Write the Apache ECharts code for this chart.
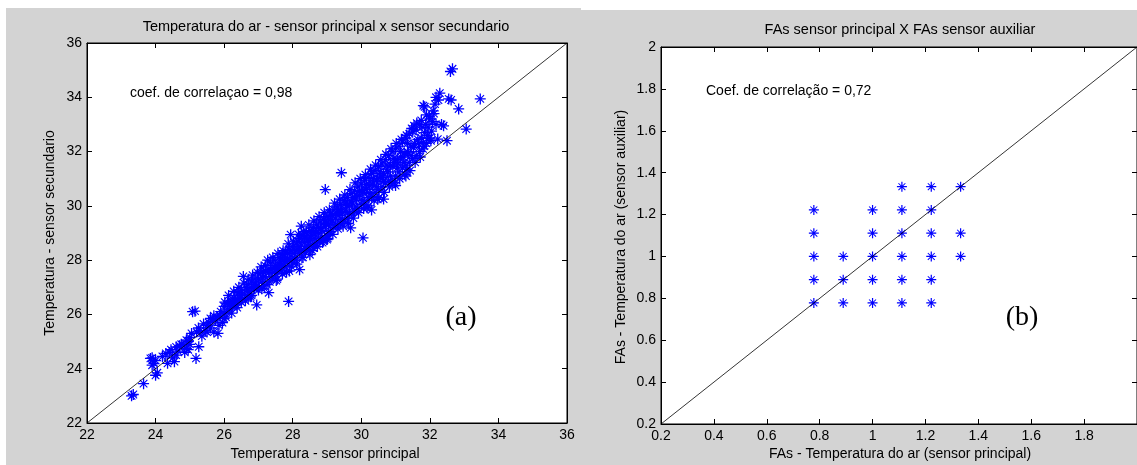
<!DOCTYPE html>
<html>
<head>
<meta charset="utf-8">
<script src="https://cdn.jsdelivr.net/npm/echarts@6/dist/echarts.min.js"></script>
<style>
html,body{margin:0;padding:0;background:#fff;}
#c{width:1137px;height:465px;}
</style>
</head>
<body>
<div id="c"></div>
<script>
// ---------- Panel (a): temperature [principal, secundario] ----------
const tempPoints = [
[23.3,23.0],[23.35,23.05],[23.65,23.45],[23.85,24.38],[23.9,24.4],[23.95,24.2],[24.0,23.76],[24.05,23.85],[23.9,24.13],[24.0,24.3],
[24.3,24.56],[24.35,24.2],[24.4,24.6],[24.5,24.4],[24.55,24.26],[24.6,24.5],[24.7,24.85],[24.75,24.9],[24.8,24.87],[24.85,24.6],
[24.9,24.75],[24.95,25.0],[25.0,24.9],[25.05,25.3],[25.08,26.1],[25.15,26.12],[25.18,24.38],[25.2,25.35],[25.26,24.81],[25.3,25.4],
[25.35,25.2],[25.45,25.4],[25.5,25.6],[25.55,25.7],[25.6,25.5],[25.65,25.75],[25.7,25.35],[25.75,25.8],[25.8,25.9],[25.82,25.3],
[25.87,25.98],[25.9,26.1],[25.95,25.7],
[24.2,24.45],[24.45,24.7],[24.65,24.65],[24.9,25.05],[25.0,25.15],[25.25,25.5],[25.4,25.65],[25.5,25.35],[25.7,25.95],[25.85,25.6],
[26.0,25.85],[25.6,25.85],[24.95,24.7],[24.6,24.8],
[26.0,26.05],[26.0,26.3],[26.05,25.9],[26.1,26.4],[26.15,26.2],[26.2,26.5],[26.24,26.48],[26.25,26.3],[26.3,26.6],[26.35,26.35],
[26.4,26.55],[26.4,26.8],[26.45,26.6],[26.5,26.9],[26.5,26.45],[26.56,27.4],[26.6,26.75],[26.65,27.0],[26.7,26.6],[26.7,27.1],
[26.75,26.85],[26.8,27.2],[26.8,26.7],[26.85,27.0],[26.9,27.3],[26.95,26.35],[26.95,27.05],[27.0,26.9],
[26.02,26.45],[26.08,26.12],[26.13,26.7],[26.18,26.35],[26.22,26.05],[26.28,26.85],[26.33,26.5],[26.38,26.25],[26.43,27.0],[26.47,26.7],
[26.53,26.6],[26.58,27.15],[26.62,26.5],[26.68,26.9],[26.72,27.3],[26.77,26.65],[26.83,27.45],[26.88,26.95],[26.92,27.15],[26.97,27.55],
[27.0,27.3],[27.05,27.5],[27.1,27.2],[27.1,26.95],[27.15,27.6],[27.2,27.4],[27.2,27.8],[27.25,27.1],[27.3,26.8],[27.3,27.55],
[27.35,27.9],[27.4,27.35],[27.4,27.7],[27.45,28.0],[27.5,27.5],[27.5,27.8],[27.55,27.3],[27.6,28.1],[27.6,27.65],[27.65,27.9],
[27.7,28.2],[27.7,27.5],[27.75,28.0],[27.8,27.75],[27.8,28.3],[27.85,28.05],[27.88,26.48],[27.9,27.6],[27.9,28.4],[27.94,28.94],
[27.95,28.15],[28.0,27.9],[28.0,28.5],
[27.03,27.0],[27.08,27.75],[27.12,27.35],[27.17,27.05],[27.22,27.6],[27.27,28.0],[27.33,27.2],[27.37,27.65],[27.42,28.1],[27.47,27.55],
[27.52,27.25],[27.57,28.25],[27.62,27.85],[27.67,27.6],[27.72,28.35],[27.77,27.95],[27.82,27.55],[27.87,28.6],[27.92,28.0],[27.97,27.75],
[27.55,27.75],[27.65,28.05],[27.75,27.8],[27.85,28.25],[27.95,28.35],
[28.05,28.25],[28.1,28.6],[28.1,28.0],[28.15,28.4],[28.2,27.65],[28.2,28.8],[28.2,28.3],[28.25,29.25],[28.25,28.55],[28.3,28.1],
[28.3,28.9],[28.35,28.65],[28.4,28.4],[28.4,29.0],[28.45,28.75],[28.5,28.2],[28.5,29.1],[28.5,28.55],[28.55,28.9],[28.6,28.45],
[28.6,29.2],[28.65,28.8],[28.7,29.3],[28.7,28.6],[28.75,29.0],[28.8,28.75],[28.8,29.4],[28.85,29.1],[28.9,28.7],[28.9,29.5],
[28.95,30.6],[28.95,29.25],[29.0,28.9],[29.0,29.6],[29.05,29.3],[29.0,28.76],
[28.02,28.7],[28.07,28.35],[28.12,27.85],[28.17,28.95],[28.22,28.5],[28.27,28.1],[28.32,29.05],[28.37,28.3],[28.42,28.75],[28.47,29.3],
[28.52,28.85],[28.57,28.35],[28.62,29.45],[28.67,29.0],[28.72,28.5],[28.77,29.6],[28.82,29.15],[28.87,28.65],[28.92,29.75],[28.97,29.35],
[28.05,28.05],[28.15,28.7],[28.25,28.35],[28.35,28.85],[28.45,28.5],[28.55,29.05],[28.65,28.6],[28.75,29.2],[28.85,28.85],[28.95,29.45],
[29.1,29.05],[29.1,29.7],[29.15,29.45],[29.2,29.2],[29.2,29.85],[29.25,29.55],[29.3,29.3],[29.3,29.95],[29.35,29.65],[29.4,29.35],
[29.42,31.22],[29.4,30.05],[29.45,29.75],[29.5,29.45],[29.5,30.2],[29.55,29.85],[29.6,29.55],[29.6,30.3],[29.65,30.0],[29.69,29.19],
[29.7,29.7],[29.7,30.45],[29.75,30.1],[29.8,29.8],[29.8,30.55],[29.85,30.25],[29.9,29.9],[29.9,30.7],[29.95,30.4],[30.0,30.05],[30.0,30.8],
[29.02,28.8],[29.07,29.85],[29.12,29.4],[29.17,28.95],[29.22,30.1],[29.27,29.7],[29.32,29.15],[29.37,30.25],[29.42,29.8],[29.47,29.25],
[29.52,30.4],[29.57,30.0],[29.62,29.35],[29.67,30.6],[29.72,30.15],[29.77,29.55],[29.82,30.85],[29.87,30.35],[29.92,29.75],[29.97,31.0],
[29.05,29.05],[29.15,29.65],[29.25,29.3],[29.35,29.85],[29.45,29.5],[29.55,30.1],[29.65,29.7],[29.75,30.3],[29.85,29.95],[29.95,30.55],
[30.05,28.82],[30.05,30.5],[30.1,30.15],[30.1,30.95],[30.15,30.6],[30.17,29.93],[30.2,30.3],[30.2,31.05],[30.25,30.75],[30.3,30.35],
[30.3,31.2],[30.35,30.85],[30.4,30.5],[30.4,31.3],[30.45,30.95],[30.48,30.24],[30.5,30.6],[30.5,31.45],[30.55,31.1],[30.6,30.7],
[30.6,31.55],[30.65,31.2],[30.7,30.85],[30.7,31.7],[30.75,31.35],[30.8,30.9],[30.8,31.85],[30.85,31.5],[30.9,30.86],[30.9,32.0],
[30.95,31.6],[31.0,31.1],[31.0,32.1],[30.3,29.85],[30.65,30.25],[31.0,30.75],
[30.02,30.55],[30.07,29.9],[30.12,31.15],[30.17,30.65],[30.22,30.0],[30.27,31.35],[30.32,30.8],[30.37,30.2],[30.42,31.5],[30.47,31.0],
[30.52,30.3],[30.57,31.7],[30.62,31.05],[30.67,30.5],[30.72,31.9],[30.77,31.25],[30.82,30.7],[30.87,32.1],[30.92,31.45],[30.97,30.85],
[30.05,30.2],[30.15,30.8],[30.25,30.45],[30.35,31.0],[30.45,30.7],[30.55,31.25],[30.65,30.9],[30.75,31.5],[30.85,31.1],[30.95,31.75],
[31.05,31.7],[31.1,31.25],[31.1,32.2],[31.15,31.8],[31.2,31.4],[31.2,32.35],[31.25,31.95],[31.3,31.5],[31.33,31.35],[31.3,32.5],
[31.35,32.0],[31.4,31.6],[31.4,32.65],[31.45,32.2],[31.5,31.75],[31.5,32.75],[31.54,32.95],[31.55,32.3],[31.6,31.85],[31.6,32.8],
[31.65,32.45],[31.7,32.0],[31.7,33.0],[31.75,33.15],[31.75,32.5],[31.8,32.1],[31.81,32.34],[31.81,33.69],[31.85,33.65],[31.85,32.7],
[31.9,33.35],[31.9,32.3],[31.95,32.9],[32.0,32.5],[31.3,31.1],
[31.02,32.3],[31.07,31.55],[31.12,31.0],[31.17,32.45],[31.22,31.8],[31.27,31.15],[31.32,32.6],[31.37,31.95],[31.42,31.3],[31.47,32.85],
[31.52,32.15],[31.57,31.6],[31.62,33.05],[31.67,32.3],[31.72,31.8],[31.77,32.9],[31.83,32.2],[31.88,33.0],[31.93,32.6],[31.98,33.3],
[32.03,32.4],[32.08,33.1],[32.12,33.4],
[31.05,31.4],[31.15,32.0],[31.25,31.6],[31.35,32.3],[31.45,31.85],
[32.0,33.2],[32.05,32.75],[32.1,33.5],[32.15,33.75],[32.18,33.0],[32.18,34.0],[32.23,32.46],[32.25,33.9],[32.29,34.15],[32.34,33.0],
[32.4,32.95],[32.5,32.4],[32.55,33.94],[32.6,34.95],[32.62,33.9],[32.66,35.05],[32.84,33.57],[33.06,32.83],[33.47,33.94]
];
const refLineA = [22, 36];

// ---------- Panel (b): FAs [principal, auxiliar] ----------
const fasPoints = [
[0.778,0.778],[0.778,0.889],[0.778,1.0],[0.778,1.111],[0.778,1.222],
[0.889,0.778],[0.889,0.889],[0.889,1.0],
[1.0,0.778],[1.0,0.889],[1.0,1.0],[1.0,1.111],[1.0,1.222],
[1.111,0.778],[1.111,0.889],[1.111,1.0],[1.111,1.111],[1.111,1.222],[1.111,1.333],
[1.222,0.778],[1.222,0.889],[1.222,1.0],[1.222,1.111],[1.222,1.222],[1.222,1.333],
[1.333,1.0],[1.333,1.111],[1.333,1.333]
];
const refLineB = [0.2, 2.0];

const titleA = 'Temperatura do ar - sensor principal x sensor secundario';
const titleB = 'FAs sensor principal X FAs sensor auxiliar';
const xNameA = 'Temperatura - sensor principal';
const yNameA = 'Temperatura - sensor secundario';
const xNameB = 'FAs - Temperatura do ar (sensor principal)';
const yNameB = 'FAs - Temperatura do ar (sensor auxiliar)';
const noteA = 'coef. de correlaçao = 0,98';
const noteB = 'Coef. de correlação = 0,72';

const FONT = '"Liberation Sans", Arial, sans-serif';
const STAR = 'path://M44,0 L56,0 L56,100 L44,100 Z M0,44 L100,44 L100,56 L0,56 Z M19.1,11.9 L88.1,80.9 L80.9,88.1 L11.9,19.1 Z M88.1,19.1 L19.1,88.1 L11.9,80.9 L80.9,11.9 Z';

function axisPair(gridIndex, min, max, interval, isX, showMax) {
  const common = {
    gridIndex, type: 'value', min, max, interval,
    splitLine: { show: false },
    axisLine: { show: true, onZero: false, lineStyle: { color: '#000', width: 1 } },
    axisTick: { show: true, inside: true, length: 5, lineStyle: { color: '#000' } }
  };
  const main = Object.assign({}, common, {
    position: isX ? 'bottom' : 'left',
    axisLabel: { color: '#000', fontFamily: FONT, fontSize: 14, margin: 5,
      showMinLabel: true, showMaxLabel: showMax }
  });
  const other = Object.assign({}, common, {
    position: isX ? 'top' : 'right',
    axisLabel: { show: false }
  });
  return [main, other];
}

const xA = axisPair(0, 22, 36, 2, true, true);
const yA = axisPair(0, 22, 36, 2, false, true);
const xB = axisPair(1, 0.2, 2.0, 0.2, true, false);
const yB = axisPair(1, 0.2, 2.0, 0.2, false, true);

function txt(x, y, text, opts, extra) {
  return Object.assign({
    type: 'text', x, y, z: 100,
    style: Object.assign({ text, fill: '#000', font: '14px ' + FONT }, opts || {})
  }, extra || {});
}

const option = {
  animation: false,
  backgroundColor: '#fff',
  graphic: [
    { type: 'rect', shape: { x: 6, y: 8, width: 575, height: 457 }, style: { fill: '#d3d3d3' }, z: -10, silent: true },
    { type: 'rect', shape: { x: 581, y: 10, width: 556, height: 455 }, style: { fill: '#d3d3d3' }, z: -10, silent: true },
    txt(326, 27, titleA, { align: 'center', verticalAlign: 'middle', font: '14.5px ' + FONT }),
    txt(900, 30, titleB, { align: 'center', verticalAlign: 'middle', font: '14.5px ' + FONT }),
    txt(325, 454, xNameA, { align: 'center', verticalAlign: 'middle' }),
    txt(900, 454, xNameB, { align: 'center', verticalAlign: 'middle' }),
    txt(50, 233, yNameA, { align: 'center', verticalAlign: 'middle' }, { rotation: Math.PI / 2 }),
    txt(621, 237, yNameB, { align: 'center', verticalAlign: 'middle' }, { rotation: Math.PI / 2 }),
    txt(130, 93, noteA, { verticalAlign: 'middle' }),
    txt(706, 91, noteB, { verticalAlign: 'middle' }),
    txt(461, 318, '(a)', { align: 'center', verticalAlign: 'middle', font: '28px "Liberation Serif", "Times New Roman", serif' }),
    txt(1022, 318, '(b)', { align: 'center', verticalAlign: 'middle', font: '28px "Liberation Serif", "Times New Roman", serif' })
  ],
  grid: [
    { left: 87, top: 43, width: 480, height: 380, show: true, backgroundColor: '#fff', borderColor: '#000', borderWidth: 1, containLabel: false },
    { left: 661, top: 47, width: 480, height: 377, show: true, backgroundColor: '#fff', borderColor: '#000', borderWidth: 1, containLabel: false }
  ],
  xAxis: [xA[0], xA[1], xB[0], xB[1]],
  yAxis: [yA[0], yA[1], yB[0], yB[1]],
  series: [
    {
      type: 'scatter', xAxisIndex: 0, yAxisIndex: 0,
      data: tempPoints,
      symbol: STAR, symbolSize: 11,
      itemStyle: { color: '#0000ff', opacity: 1 }, z: 2
    },
    {
      type: 'line', xAxisIndex: 0, yAxisIndex: 0,
      data: refLineA.map(v => [v, v]), showSymbol: false, symbol: 'none',
      lineStyle: { color: '#000', width: 0.8 }, z: 5
    },
    {
      type: 'scatter', xAxisIndex: 2, yAxisIndex: 2,
      data: fasPoints,
      symbol: STAR, symbolSize: 10,
      itemStyle: { color: '#0000ff', opacity: 1 }, z: 2
    },
    {
      type: 'line', xAxisIndex: 2, yAxisIndex: 2,
      data: refLineB.map(v => [v, v]), showSymbol: false, symbol: 'none',
      lineStyle: { color: '#000', width: 0.8 }, z: 5
    }
  ]
};

const chart = echarts.init(document.getElementById('c'), null, { renderer: 'canvas' });
chart.setOption(option);
</script>
</body>
</html>
